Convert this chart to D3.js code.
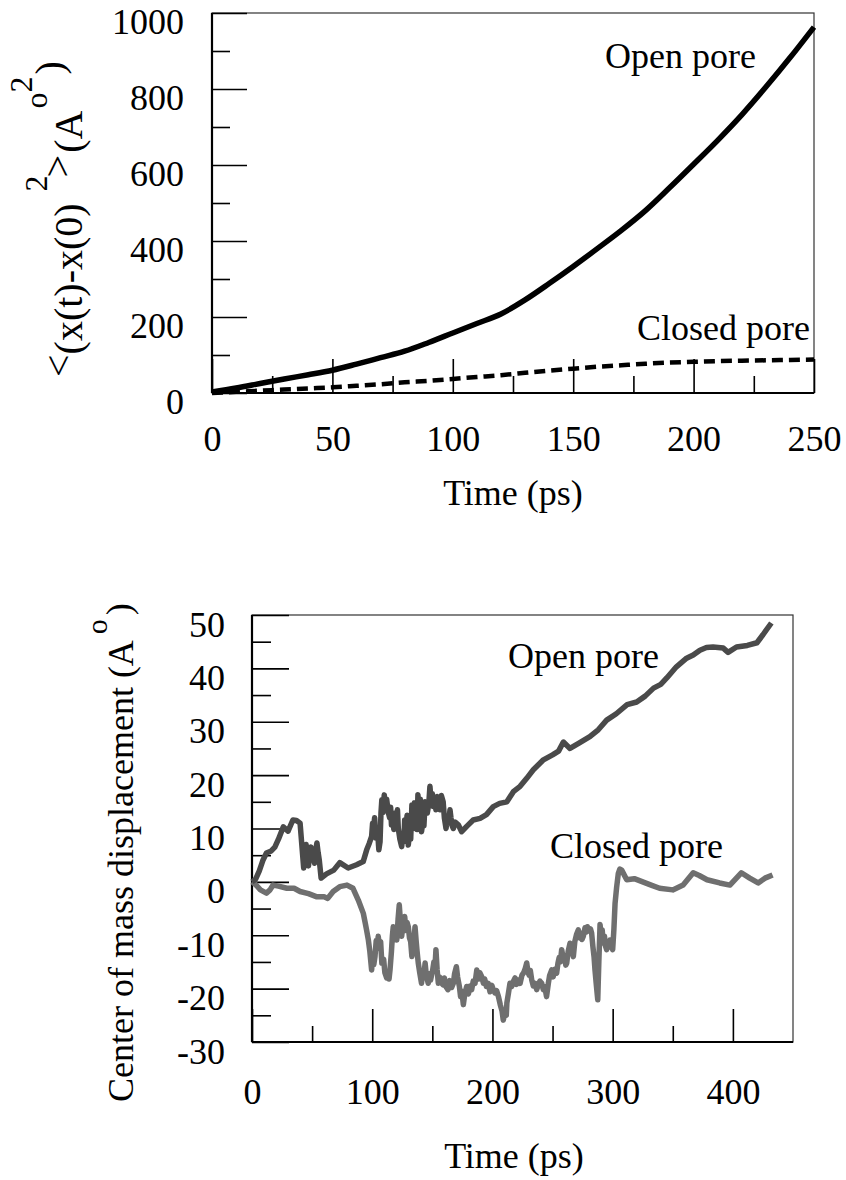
<!DOCTYPE html>
<html>
<head>
<meta charset="utf-8">
<script src="https://cdn.jsdelivr.net/npm/d3@7"></script>
<style>
  html, body { margin: 0; padding: 0; background: #fff; }
  svg text { font-family: "Liberation Serif", "Times New Roman", Times, serif !important; fill: #000; }
</style>
</head>
<body>
<svg id="fig" width="846" height="1180"></svg>
<script>
// ---- Panel (a): mean square displacement ----
const msdTime = [0,10,20,30,40,50,60,70,80,90,100,110,120,130,140,150,160,170,180,190,200,210,220,230,240,250];
const msdOpen = [3,13,25,37,48,60,76,93,110,133,158,183,208,245,288,333,380,428,480,540,602,665,732,805,882,963];
const msdClosed = [0,3,6,9,12,15,19,23,28,32,37,42,47,53,59,64,69,73,77,80,82,84,85,86,87,88];
const msdXTicks = [0,50,100,150,200,250];
const msdXMinor = [25,75,125,175,225];
const msdYTicks = [0,200,400,600,800,1000];
const msdYMinor = [100,300,500,700,900];

// ---- Panel (b): center of mass displacement, [time (ps), displacement] ----
const comOpen = [
  [0,0],[3,0.5],[6,2],[9,4],[12,5.4],[16,5.8],[19,6.5],[22,8],[26,10.3],[30,9.5],[34,11.6],[37,11.5],[40,11],
  [43,2.6],[44,6],[45,7],[46,4.5],[47,3],[48,5.8],[49,6.5],[50.5,5],[52,3.5],[53,6],[54,7.3],[55,5.5],[56,4],[57.5,0.7],
  [62,1.5],[68,2.2],[73,3.6],[80,2.6],[87,3.2],[92.5,3.8],[95.4,6],[97.5,7.2],[99.5,8.5],[100.3,11],[101,10],[102,12],
  [103,8.2],[104.5,9.5],[105.5,6],[106.5,7.5],[107.3,13],[108,15.4],[109,13],[110,16.3],[111,14],[112,15.5],[113.4,13],
  [114.5,12],[115.3,14],[116,10.7],[117,12],[118,9.8],[119,12.9],[120,11.5],[121,13.5],[121.7,10],[123,8],[124.5,6.6],
  [125.5,9],[126.3,7.5],[127,11.6],[128,10],[129,12.5],[130,6.9],[131,9],[132,8],[133,14.4],[134,12],[135,14.8],
  [135.6,10],[136.5,12],[137.3,9.8],[138,16.3],[139,14],[140,15.5],[141,9.4],[142,11],[143,10.5],[144,15],[145,13.5],
  [145.8,12.9],[147,14.5],[148,17.9],[149,15],[150,16.5],[150.8,14.1],[152,15.5],[153,13.5],[154,16],[155.3,14.5],
  [156.4,13.5],[157.5,16.2],[159,15],[160,12],[161.4,10],[162.5,12],[163.5,11],[164.7,13.5],[165.5,12],[166.5,10.5],
  [167.5,10],[169,11.2],[171.6,10.7],[174.4,9.4],[178.6,10.4],[184,11.6],[189.7,11.9],[195,12.6],[200.7,14.1],[206,14.7],
  [212,15],[217.4,16.9],[223,17.9],[228.5,19.4],[234,21],[242,22.8],[250,23.8],[255,24.5],[259,26.2],[264.5,25],[272,26],
  [281,27.2],[288,28.5],[295,30.3],[303,31.5],[312,33.2],[320,33.7],[327,34.8],[334,36.3],[340,37],[345,38.2],[353,40.3],
  [361.5,41.9],[367,42.5],[372.6,43.4],[378,43.9],[383.5,44],[392,43.8],[396,43],[403,44],[412,44.3],[420,44.8],
  [425,46.3],[432,48.5]
];
const comClosed = [
  [0,0],[3,-0.5],[7,-1.5],[12,-2.1],[15,-1.5],[17.5,-0.6],[22,-0.8],[29,-1.2],[35,-1.2],[40,-1.8],[47,-2.2],[54,-2.8],
  [60,-2.8],[63,-3.1],[67.5,-1.8],[73,-0.9],[79,-0.6],[84,-1.2],[88.4,-3.4],[92.6,-5.9],[94,-7.5],[95.3,-9],[96.8,-10.9],
  [98,-13],[99.5,-16.5],[100.5,-13.5],[101.3,-15.5],[102.3,-14],[103.3,-11],[104,-12.5],[105,-10.2],[106,-12],[107,-11.2],
  [108,-15.2],[109.5,-14.5],[110.5,-17],[112,-18],[113,-16.8],[114,-18.2],[114.8,-16.5],[116,-13],[116.8,-10],[117.5,-8.4],
  [118.5,-9.8],[119.5,-8.6],[120.4,-10.9],[121.5,-7],[122.5,-4.3],[123.5,-7.5],[124.5,-10.2],[125.5,-8],[126.3,-9.2],
  [127,-6.5],[128,-8.8],[129,-7.6],[130,-8.4],[131,-10.5],[132,-11.2],[133,-14],[134,-11],[135,-10.2],[135.6,-8.4],
  [136.5,-11],[137.3,-13],[138.3,-15.2],[139.5,-17],[141,-19],[142,-16.8],[143,-17.5],[144,-15.2],[145,-17.6],[146.6,-19],
  [147.5,-17.2],[148.5,-18.4],[150.3,-16.5],[151.3,-15],[152.2,-16],[153,-12.7],[154,-16.5],[155,-19],[156,-17.8],
  [157,-18.8],[159,-19.3],[160,-18],[161,-19.5],[163,-20.2],[164.5,-18.5],[166,-19.8],[167.5,-19],[168.5,-17.2],
  [170,-15.9],[171,-17.8],[172.5,-19.6],[173.5,-21.5],[174.5,-20.5],[175.8,-23],[177,-21],[178.6,-19.6],[180,-21],
  [181.5,-19.5],[182.7,-20.2],[184,-18.6],[185.5,-19],[187,-16.5],[188.5,-18.2],[189.5,-17],[191,-17.7],[192.5,-19],
  [193.5,-18.2],[195,-19.6],[196.5,-19],[198,-20.6],[199.5,-19.4],[200.7,-20.2],[202,-20.8],[203.5,-20.4],[205,-21.5],
  [206.5,-23],[208,-24.2],[209,-25.9],[210.5,-24.5],[211.5,-25],[212,-22.7],[213.2,-21],[214.6,-19],[216,-19.6],
  [217.5,-18.6],[218.8,-18],[220,-19.2],[221.5,-18.4],[223,-19],[224.5,-17.5],[226,-17],[227.3,-16.2],[228.5,-15.2],
  [229.5,-16.8],[230.5,-17.5],[231.5,-16.6],[232.7,-18.4],[234,-19.5],[235.5,-19],[236.8,-20.2],[238,-19.4],[239.5,-18.6],
  [241,-19],[242.3,-20.2],[243.5,-19.6],[245,-21.5],[246.5,-19],[247.5,-17.6],[249.3,-16.5],[250.5,-17.8],[252,-16.4],
  [253.4,-17.1],[254.5,-15.2],[255.5,-14.2],[256.5,-15],[257.6,-12.7],[258.8,-14.2],[260,-13.8],[261,-15.6],[261.8,-15.2],
  [263,-13],[264.5,-11.5],[265.5,-12.6],[266.5,-13.2],[267.3,-14],[268.5,-11.2],[270,-9.8],[271.4,-9],[272.5,-10.5],
  [273.5,-9.6],[274.5,-10.8],[275.6,-10.2],[277,-8.6],[278,-9.4],[279,-8.4],[280.5,-9.2],[281.5,-8.8],[282.5,-9.6],
  [283.5,-12],[284.5,-14],[285.3,-16.5],[286.5,-19.5],[287.6,-22.1],[288.5,-15],[289.5,-8],[290.5,-10],[291.3,-9],
  [292.2,-11.5],[293.2,-10.2],[294,-12],[295,-12.7],[296,-11.2],[297,-12.2],[297.8,-10.9],[299,-12],[300,-12.7],[301,-9],
  [302,-4],[303.3,-1],[304.7,1.6],[306,2.4],[307.5,2.2],[311.7,0.4],[318,0.6],[325,0],[332,-0.6],[339,-1.2],[350,-1.5],
  [358.6,-0.6],[367,1.7],[372,1.2],[378.5,0.4],[389,-0.2],[397.5,-0.6],[407,1.7],[414,0.7],[421,-0.2],[426.7,0.7],[433,1.3]
];
const comXTicks = [0,100,200,300,400];
const comXMinor = [50,150,250,350];
const comYTicks = [-30,-20,-10,0,10,20,30,40,50];
const comYMinor = [-25,-15,-5,5,15,25,35,45];

const SERIF = '"Liberation Serif", "Times New Roman", Times, serif';
const FS = 36;
const svg = d3.select("#fig");
const plain = d => String(d);   // ASCII hyphen for negatives

function panel(cfg) {
  const g = svg.append("g");
  const x = d3.scaleLinear().domain(cfg.xDomain).range([cfg.left, cfg.right]);
  const y = d3.scaleLinear().domain(cfg.yDomain).range([cfg.bottom, cfg.top]);

  // frame: thin top/right
  g.append("rect")
    .attr("x", cfg.left).attr("y", cfg.top)
    .attr("width", cfg.right - cfg.left).attr("height", cfg.bottom - cfg.top)
    .attr("fill", "none").attr("stroke", "#333").attr("stroke-width", 1.2);

  const styleAxis = sel => {
    sel.attr("font-size", FS).style("font-family", SERIF);
    sel.select(".domain").remove();
    sel.selectAll(".tick line").attr("stroke", "#000").attr("stroke-width", 1.6);
    sel.selectAll(".tick text").attr("fill", "#000").style("font-family", SERIF);
  };

  // y axis major + minor, ticks pointing inward
  const yAx = g.append("g").attr("transform", `translate(${cfg.left},0)`)
    .call(d3.axisLeft(y).tickValues(cfg.yTicks).tickSize(-cfg.yMajorLen).tickPadding(cfg.yPad).tickFormat(plain));
  styleAxis(yAx);
  yAx.selectAll(".tick text").attr("dy", cfg.yLabelDy);
  const yMin = g.append("g").attr("transform", `translate(${cfg.left},0)`)
    .call(d3.axisLeft(y).tickValues(cfg.yMinor).tickSize(-cfg.yMinorLen).tickFormat(""));
  styleAxis(yMin);

  // x axis major + minor
  const xAx = g.append("g").attr("transform", `translate(0,${cfg.bottom})`)
    .call(d3.axisBottom(x).tickValues(cfg.xTicks).tickSize(-cfg.xMajorLen).tickFormat(plain));
  styleAxis(xAx);
  xAx.selectAll(".tick text").attr("y", cfg.xLabelY).attr("dy", 0);
  const xMin = g.append("g").attr("transform", `translate(0,${cfg.bottom})`)
    .call(d3.axisBottom(x).tickValues(cfg.xMinor).tickSize(-cfg.xMinorLen).tickFormat(""));
  styleAxis(xMin);

  // heavier left and bottom spines
  g.append("line").attr("x1", cfg.left).attr("x2", cfg.left).attr("y1", cfg.top).attr("y2", cfg.bottom)
    .attr("stroke", "#000").attr("stroke-width", 2.2);
  g.append("line").attr("x1", cfg.left).attr("x2", cfg.right).attr("y1", cfg.bottom).attr("y2", cfg.bottom)
    .attr("stroke", "#000").attr("stroke-width", 2.2);

  return { g, x, y };
}

function label(g, x, y, txt, anchor) {
  return g.append("text").attr("x", x).attr("y", y)
    .style("font-family", SERIF).attr("font-size", FS)
    .attr("text-anchor", anchor || "start").text(txt);
}

// ---------- Panel (a) ----------
const pa = panel({
  left: 212, right: 814, top: 13, bottom: 393,
  xDomain: [0, 250], yDomain: [0, 1000],
  xTicks: msdXTicks, xMinor: msdXMinor, yTicks: msdYTicks, yMinor: msdYMinor,
  yMajorLen: 35, yMinorLen: 18, xMajorLen: 34, xMinorLen: 17,
  yPad: 28, yLabelDy: 20, xLabelY: 58
});

const lineA = vs => d3.line().curve(d3.curveMonotoneX)
  .x((d, i) => pa.x(msdTime[i])).y(d => pa.y(d))(vs);
pa.g.append("path").attr("d", lineA(msdClosed))
  .attr("fill", "none").attr("stroke", "#000").attr("stroke-width", 4.5)
  .attr("stroke-dasharray", "11,6");
pa.g.append("path").attr("d", lineA(msdOpen))
  .attr("fill", "none").attr("stroke", "#000").attr("stroke-width", 5.5)
  .attr("stroke-linejoin", "round");

label(pa.g, 605, 68, "Open pore");
label(pa.g, 637, 340, "Closed pore");
label(pa.g, 513, 505, "Time (ps)", "middle");

// y title: <(x(t)-x(0)^2> (A°^2)
const ta = pa.g.append("text").style("font-family", SERIF).attr("font-size", 40)
  .attr("transform", "translate(82,377) rotate(-90)");
ta.append("tspan").attr("dy", -10).text("<");
ta.append("tspan").attr("dy", 10).text("(x(t)-x(0)");
ta.append("tspan").attr("font-size", 32).attr("dx", 12).attr("dy", -35).text("2");
ta.append("tspan").attr("dx", -2).attr("dy", 24).text(">");
ta.append("tspan").attr("dx", 2).attr("dy", 11).text("(A");
ta.append("tspan").attr("font-size", 32).attr("dx", 2).attr("dy", -35).text("o");
ta.append("tspan").attr("font-size", 32).attr("dx", 0).attr("dy", -15).text("2");
ta.append("tspan").attr("dx", 2).attr("dy", 31).text(")");

// ---------- Panel (b) ----------
const pb = panel({
  left: 252, right: 793, top: 615, bottom: 1042,
  xDomain: [0, 450], yDomain: [-30, 50],
  xTicks: comXTicks, xMinor: comXMinor, yTicks: comYTicks, yMinor: comYMinor,
  yMajorLen: 37, yMinorLen: 19, xMajorLen: 33, xMinorLen: 16,
  yPad: 27, yLabelDy: 21, xLabelY: 62
});

const lineB = d3.line().x(d => pb.x(d[0])).y(d => pb.y(d[1]));
pb.g.append("path").attr("d", lineB(comClosed))
  .attr("fill", "none").attr("stroke", "#6f6f6f").attr("stroke-width", 5.5)
  .attr("stroke-linejoin", "round");
pb.g.append("path").attr("d", lineB(comOpen))
  .attr("fill", "none").attr("stroke", "#4a4a4a").attr("stroke-width", 5.5)
  .attr("stroke-linejoin", "round");

label(pb.g, 508, 668, "Open pore");
label(pb.g, 550, 858, "Closed pore");
label(pb.g, 514, 1168, "Time (ps)", "middle");

const tb = pb.g.append("text").style("font-family", SERIF).attr("font-size", 36)
  .attr("transform", "translate(133,1102) rotate(-90)");
tb.append("tspan").text("Center of mass displacement (A");
tb.append("tspan").attr("font-size", 30).attr("dx", 6).attr("dy", -26).text("o");
tb.append("tspan").attr("dx", 4).attr("dy", 24).text(")");
</script>
</body>
</html>
